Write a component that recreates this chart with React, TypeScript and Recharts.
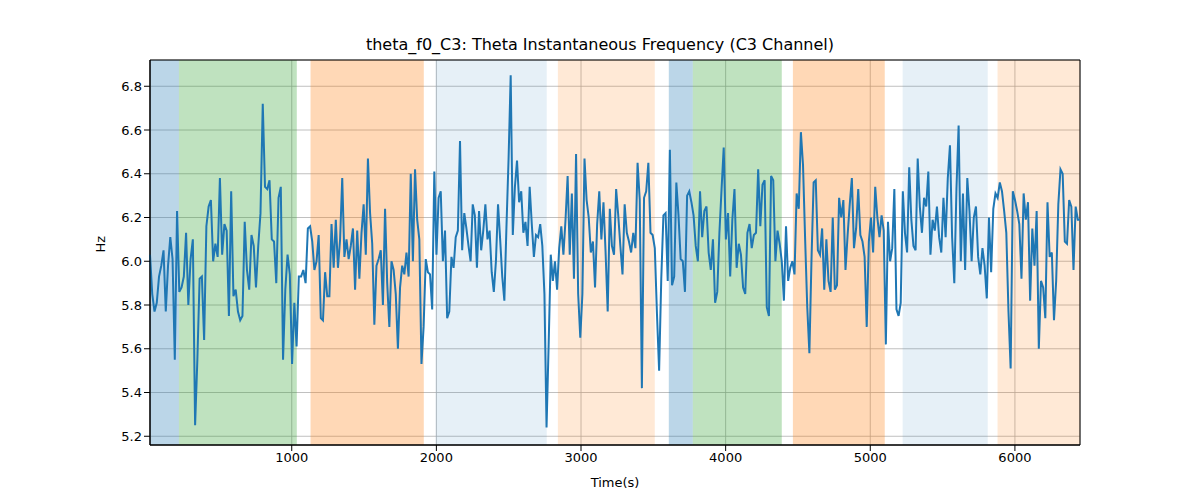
import React from "react";
import {
    LineChart,
    Line,
    XAxis,
    YAxis,
    CartesianGrid,
    ReferenceArea,
} from "recharts";

// readings per stretch of the time axis (Hz)
const seg1 = [6.03, 5.85, 5.77, 5.81, 5.93, 5.98, 6.05, 5.77, 5.98, 6.11, 6.01, 5.55, 6.23, 5.86, 5.88, 5.93, 6.13, 5.8, 6.01, 6.1, 5.25, 5.55, 5.92, 5.93, 5.64, 6.16, 6.25, 6.28, 6.0, 6.08, 6.02, 6.38, 6.03, 6.17, 6.14, 5.75, 6.32, 5.84, 5.87, 5.77, 5.73, 5.75, 6.18, 5.96, 5.87, 6.12, 6.07, 5.88, 6.07, 6.22, 6.72, 6.34, 6.33, 6.37, 6.1, 6.09, 5.9, 6.29, 6.34, 5.55, 5.87, 6.03, 5.94, 5.53, 5.81, 5.61, 5.93, 5.93, 5.96, 5.9, 6.15];
const seg2 = [6.16, 6.09, 5.96, 6.0, 6.12, 5.74, 5.73, 5.95, 5.84, 5.84, 6.17, 5.97, 6.19, 5.97, 6.1, 6.38, 6.02, 6.1, 6.01, 6.07, 6.15, 5.87, 6.14, 5.92, 6.13, 6.26, 6.03, 6.47, 6.22, 6.08, 5.71, 5.98, 6.01, 6.05, 5.8, 6.24, 5.9, 5.7, 6.0, 5.96, 5.85, 5.6, 5.88, 5.98, 5.94, 6.04, 5.93, 6.4, 6.0, 6.42, 6.19, 6.1, 5.53, 5.7, 6.01, 5.95, 5.94, 5.78, 6.41, 6.03, 6.29, 6.32, 6.0, 6.14, 5.74, 5.77, 6.02, 5.97, 6.11, 6.14, 6.55, 6.05];
const seg3 = [6.22, 6.15, 6.07, 6.0, 6.26, 6.21, 5.97, 6.23, 6.05, 6.14, 6.26, 6.1, 6.14, 5.95, 5.86, 6.0, 6.26, 6.1, 5.93, 5.82, 6.16, 6.47, 6.85, 6.12, 6.34, 6.46, 6.27, 6.32, 6.13, 6.18, 6.07, 6.34, 6.17, 6.02, 6.12, 6.11, 6.17, 6.07, 5.85, 5.24, 5.62, 6.03, 5.91, 6.0, 5.87, 6.06, 6.16, 6.03, 6.19, 6.39, 6.03, 6.31, 5.92, 6.49, 5.85, 5.65, 5.85, 6.47, 6.28, 6.2, 6.04, 6.09, 5.88, 6.17, 6.32, 6.1, 6.27, 6.04, 5.77, 6.24, 6.07, 6.03, 6.33, 6.21];
const seg4 = [6.07, 5.94, 6.26, 6.13, 6.09, 6.04, 6.13, 6.06, 6.45, 6.28, 5.42, 6.29, 6.32, 6.45, 6.13, 6.12, 6.06, 5.76, 5.5, 5.92, 6.21, 6.22, 5.91, 6.51, 5.89, 5.93, 6.36, 6.21, 6.01, 6.0, 5.86, 6.3, 6.32, 6.27, 6.21, 6.07, 6.0, 6.32, 6.11, 6.23, 6.25, 6.04, 5.96, 6.1, 5.81, 5.86, 6.13, 6.33, 6.52, 6.1, 6.22, 5.93, 6.19, 6.33, 5.97, 6.08, 6.03, 5.88, 5.85, 6.13, 6.17, 6.06, 6.12, 6.13, 6.42, 6.16, 6.35, 6.37, 5.79, 5.75, 6.39, 6.37];
const seg5 = [6.0, 6.14, 6.08, 6.0, 5.82, 6.16, 5.91, 5.97, 6.0, 5.94, 6.31, 6.24, 6.59, 6.44, 6.1, 5.79, 5.58, 6.01, 6.36, 6.37, 6.05, 6.03, 6.15, 5.87, 6.1, 5.91, 5.86, 6.2, 5.87, 5.89, 6.29, 6.2, 6.28, 5.96, 6.12, 6.26, 6.38, 6.06, 6.15, 6.33, 6.12, 6.09, 6.02, 5.7, 6.09, 6.2, 6.04, 6.34, 6.2, 6.11, 6.21, 6.14, 5.62, 6.18, 6.0, 6.06, 6.33, 5.78, 5.75, 5.81, 6.32, 6.13, 6.04, 6.43, 6.19, 6.07, 6.05, 6.47, 6.25, 6.13, 6.29, 6.25, 6.41];
const seg6 = [6.03, 6.19, 6.14, 6.25, 6.11, 6.04, 6.29, 6.11, 6.38, 6.53, 6.11, 5.9, 6.33, 6.62, 6.0, 6.31, 5.96, 6.38, 6.23, 6.0, 6.2, 6.25, 6.02, 5.94, 6.06, 5.98, 5.83, 6.2, 5.95, 6.24, 6.31, 6.29, 6.36, 6.32, 6.23, 6.13, 5.77, 5.51, 6.32, 6.28, 6.23, 6.17, 5.92, 6.31, 6.19, 6.27, 5.82, 6.15, 5.98, 6.23, 5.6, 5.91, 5.88, 5.74, 6.27, 6.02, 6.04, 5.73, 5.91, 6.26, 6.42, 6.4, 6.09, 6.08, 6.28, 6.25, 5.96, 6.25, 6.19];

// time span (s) covered by each stretch
const segSpans: [number, number][] = [
    [20, 1127],
    [1127, 2193],
    [2193, 3272],
    [3272, 4344],
    [4344, 5416],
    [5416, 6450],
];

// shaded epochs: start, end, colour, opacity
const bands: [number, number, string, number][] = [
    [20, 220, "#1f77b4", 0.3],
    [220, 1035, "#2ca02c", 0.3],
    [1130, 1913, "#ff7f0e", 0.3],
    [1995, 2763, "#1f77b4", 0.11],
    [2840, 3510, "#ff7f0e", 0.17],
    [3607, 3773, "#1f77b4", 0.3],
    [3773, 4388, "#2ca02c", 0.3],
    [4465, 5100, "#ff7f0e", 0.3],
    [5224, 5812, "#1f77b4", 0.11],
    [5880, 6450, "#ff7f0e", 0.17],
];

const xTicks = [1000, 2000, 3000, 4000, 5000, 6000];
const yTicks = [5.2, 5.4, 5.6, 5.8, 6.0, 6.2, 6.4, 6.6, 6.8];

const segs = [seg1, seg2, seg3, seg4, seg5, seg6];
const data: { t: number; hz: number }[] = [];
segs.forEach((s, k) => {
    const [a, b] = segSpans[k];
    s.forEach((v, i) => data.push({ t: a + (i * (b - a)) / s.length, hz: v }));
});
data.push({ t: 6450, hz: 6.19 });

const font = "DejaVu Sans, sans-serif";

export default function App() {
    return (
        <div style={{ position: "absolute", left: 0, top: 0, width: 1200, height: 500, background: "#fff", fontFamily: font }}>
            <div style={{ position: "absolute", top: 35, width: 1200, textAlign: "center", fontSize: 16, color: "#000" }}>
                theta_f0_C3: Theta Instantaneous Frequency (C3 Channel)
            </div>
            <LineChart
                width={1200}
                height={500}
                data={data}
                margin={{ top: 60, right: 120, bottom: 25, left: 100 }}
            >
                <CartesianGrid stroke="#b0b0b0" strokeWidth={0.8} />
                {bands.map(([a, b, c, o], i) => (
                    <ReferenceArea key={i} x1={a} x2={b} fill={c} fillOpacity={o} stroke="none" ifOverflow="hidden" />
                ))}
                <XAxis
                    dataKey="t"
                    type="number"
                    domain={[20, 6450]}
                    ticks={xTicks}
                    height={30}
                    tick={{ fill: "#000", fontSize: 13, fontFamily: font }}
                    tickLine={{ stroke: "#000" }}
                    axisLine={{ stroke: "#000" }}
                    label={{ value: "Time(s)", position: "insideBottom", offset: -12, fill: "#000", fontSize: 13, fontFamily: font }}
                />
                <YAxis
                    type="number"
                    domain={[5.16, 6.92]}
                    ticks={yTicks}
                    width={50}
                    tickFormatter={(v: number) => v.toFixed(1)}
                    tick={{ fill: "#000", fontSize: 13, fontFamily: font }}
                    tickLine={{ stroke: "#000" }}
                    axisLine={{ stroke: "#000" }}
                    label={{ value: "Hz", angle: -90, position: "insideLeft", offset: 0, dx: 0, fill: "#000", fontSize: 13, fontFamily: font }}
                />
                <Line
                    dataKey="hz"
                    type="linear"
                    stroke="#1f77b4"
                    strokeWidth={2}
                    dot={false}
                    isAnimationActive={false}
                />
                <ReferenceArea x1={20} x2={6450} y1={5.16} y2={6.92} fill="none" stroke="#000" strokeWidth={1} />
            </LineChart>
        </div>
    );
}
